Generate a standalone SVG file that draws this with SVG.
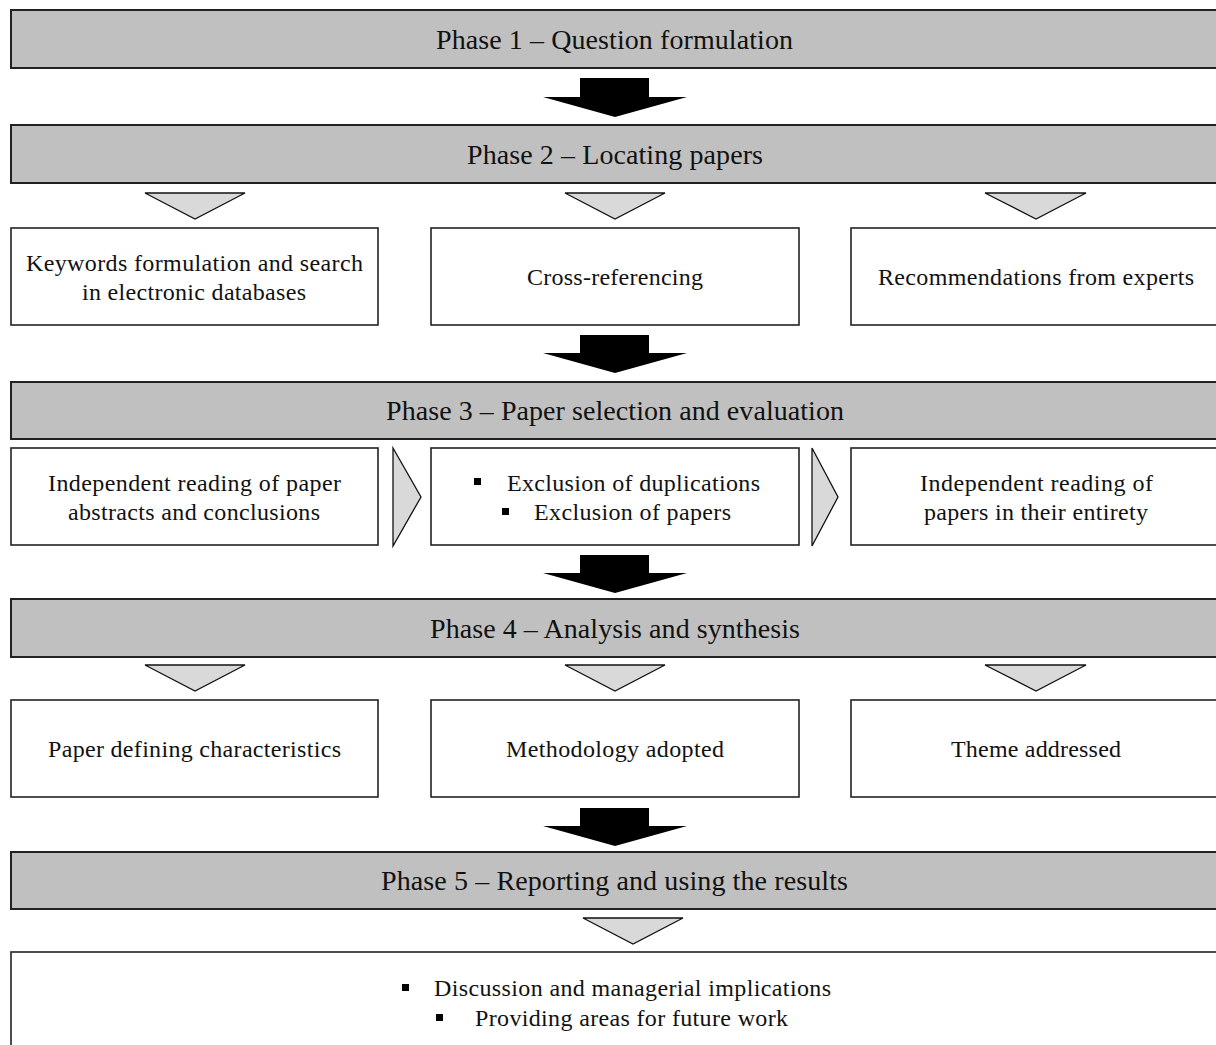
<svg xmlns="http://www.w3.org/2000/svg" width="1216" height="1045" viewBox="0 0 1216 1045">
<style>
.phase{fill:#c0c0c0;stroke:#222;stroke-width:2}
.box{fill:#fff;stroke:#222;stroke-width:1.6}
.tri{fill:#d9d9d9;stroke:#111;stroke-width:1.3}
.big{fill:#000}
text{font-family:"Liberation Serif","Times New Roman",serif;fill:#111}
.pt{font-size:28px;text-anchor:middle}
.nt{font-size:24px;text-anchor:middle}
.lt{font-size:24px}
.bul{fill:#000}
</style>
<rect width="1216" height="1045" fill="#fff"/>
<g id="phase1"><rect class="phase" x="11" y="10" width="1220" height="58"/><text class="pt" x="614.5" y="49" textLength="357" lengthAdjust="spacing">Phase 1 – Question formulation</text></g>
<g id="phase2"><rect class="phase" x="11" y="125" width="1220" height="58"/><text class="pt" x="615" y="164" textLength="296" lengthAdjust="spacing">Phase 2 – Locating papers</text></g>
<g id="keywords"><rect class="box" x="11" y="228" width="367" height="97"/><text class="nt" x="194.5" y="271" textLength="337" lengthAdjust="spacing">Keywords formulation and search</text><text class="nt" x="194" y="300" textLength="224" lengthAdjust="spacing">in electronic databases</text></g>
<g id="crossref"><rect class="box" x="431" y="228" width="368" height="97"/><text class="nt" x="615" y="285" textLength="176" lengthAdjust="spacing">Cross-referencing</text></g>
<g id="experts"><rect class="box" x="851" y="228" width="380" height="97"/><text class="nt" x="1036" y="285" textLength="316" lengthAdjust="spacing">Recommendations from experts</text></g>
<g id="phase3"><rect class="phase" x="11" y="382" width="1220" height="57"/><text class="pt" x="615" y="420" textLength="458" lengthAdjust="spacing">Phase 3 – Paper selection and evaluation</text></g>
<g id="abstracts"><rect class="box" x="11" y="448" width="367" height="97"/><text class="nt" x="194.5" y="491" textLength="293" lengthAdjust="spacing">Independent reading of paper</text><text class="nt" x="194" y="520" textLength="252" lengthAdjust="spacing">abstracts and conclusions</text></g>
<g id="exclusion"><rect class="box" x="431" y="448" width="368" height="97"/><rect class="bul" x="474" y="478" width="7" height="7"/><text class="lt" x="507" y="491" textLength="253" lengthAdjust="spacing">Exclusion of duplications</text><rect class="bul" x="502" y="508" width="7" height="7"/><text class="lt" x="534" y="520" textLength="197" lengthAdjust="spacing">Exclusion of papers</text></g>
<g id="entirety"><rect class="box" x="851" y="448" width="380" height="97"/><text class="nt" x="1036.5" y="491" textLength="233" lengthAdjust="spacing">Independent reading of</text><text class="nt" x="1036" y="520" textLength="224" lengthAdjust="spacing">papers in their entirety</text></g>
<g id="phase4"><rect class="phase" x="11" y="599" width="1220" height="58"/><text class="pt" x="615" y="638" textLength="370" lengthAdjust="spacing">Phase 4 – Analysis and synthesis</text></g>
<g id="characteristics"><rect class="box" x="11" y="700" width="367" height="97"/><text class="nt" x="194.5" y="757" textLength="293" lengthAdjust="spacing">Paper defining characteristics</text></g>
<g id="methodology"><rect class="box" x="431" y="700" width="368" height="97"/><text class="nt" x="615" y="757" textLength="218" lengthAdjust="spacing">Methodology adopted</text></g>
<g id="theme"><rect class="box" x="851" y="700" width="380" height="97"/><text class="nt" x="1036" y="757" textLength="170" lengthAdjust="spacing">Theme addressed</text></g>
<g id="phase5"><rect class="phase" x="11" y="852" width="1220" height="57"/><text class="pt" x="614.5" y="890" textLength="467" lengthAdjust="spacing">Phase 5 – Reporting and using the results</text></g>
<g id="results"><rect class="box" x="11" y="952" width="1220" height="110"/><rect class="bul" x="402" y="984" width="7" height="7"/><text class="lt" x="434" y="996" textLength="397" lengthAdjust="spacing">Discussion and managerial implications</text><rect class="bul" x="436" y="1014" width="7" height="7"/><text class="lt" x="475" y="1026" textLength="313" lengthAdjust="spacing">Providing areas for future work</text></g>
<g id="connectors">
<polygon class="big" points="580,78 649,78 649,97 687,97 615,117 543,97 580,97"/>
<polygon class="big" points="580,335 649,335 649,353 687,353 615,373 543,353 580,353"/>
<polygon class="big" points="580,555 649,555 649,573 687,573 615,593 543,573 580,573"/>
<polygon class="big" points="580,808 649,808 649,826 687,826 615,846 543,826 580,826"/>
<polygon class="tri" points="145,193 245,193 195,219"/>
<polygon class="tri" points="565,193 665,193 615,219"/>
<polygon class="tri" points="985,193 1086,193 1036,219"/>
<polygon class="tri" points="393,448 421,497 393,546"/>
<polygon class="tri" points="812,448 838,497 812,546"/>
<polygon class="tri" points="145,665 245,665 195,691"/>
<polygon class="tri" points="565,665 665,665 615,691"/>
<polygon class="tri" points="985,665 1086,665 1036,691"/>
<polygon class="tri" points="583,918 683,918 633,944"/>
</g>
</svg>
